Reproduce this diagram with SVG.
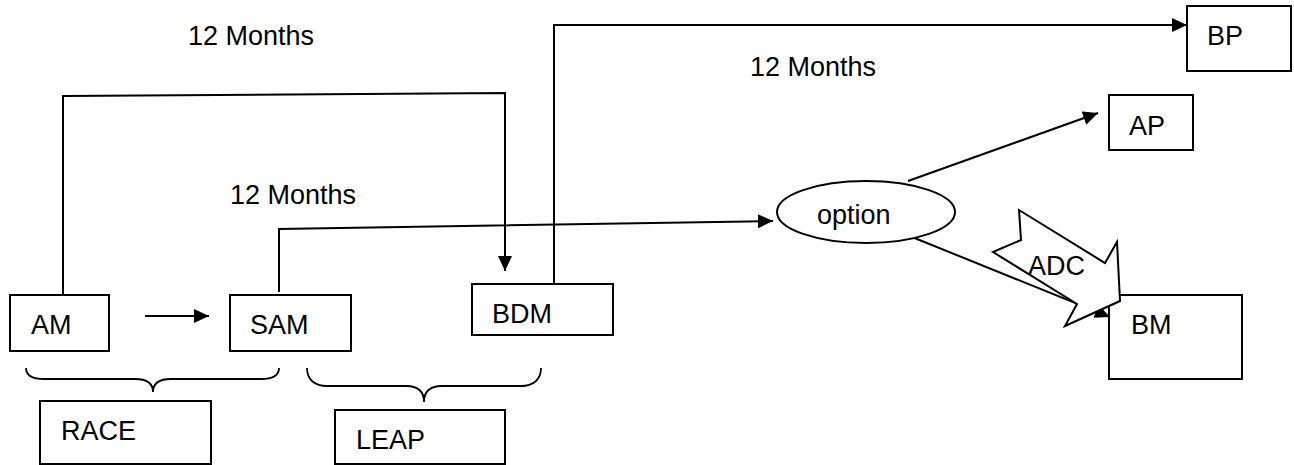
<svg xmlns="http://www.w3.org/2000/svg" width="1294" height="465" viewBox="0 0 1294 465">
  <defs>
    <style>
      .box { fill: #fff; stroke: #000; stroke-width: 2; }
      .lbl { font-family: "Liberation Sans", Arial, sans-serif; font-size: 27px; fill: #000; }
      .conn { fill: none; stroke: #000; stroke-width: 2; }
      .brace { fill: none; stroke: #000; stroke-width: 1.8; }
    </style>
    <marker id="arr" markerUnits="userSpaceOnUse" markerWidth="18" markerHeight="16" refX="15" refY="7" orient="auto">
      <path d="M0,0 L15,7 L0,14 Z" fill="#000"/>
    </marker>
  </defs>

  <rect width="1294" height="465" fill="#fff"/>

  <g id="labels">
    <text class="lbl" x="188" y="45">12 Months</text>
    <text class="lbl" x="750" y="76">12 Months</text>
    <text class="lbl" x="230" y="204">12 Months</text>
  </g>

  <g id="node-BM"><rect class="box" x="1109" y="295" width="133" height="84"/><text class="lbl" x="1131" y="334">BM</text></g>

  <g id="connectors">
    <path class="conn" d="M63,295 L63,96 L505,93 L505,271" marker-end="url(#arr)"/>
    <path class="conn" d="M145,316 L209,316" marker-end="url(#arr)"/>
    <path class="conn" d="M279,292 L279,229 L773,221" marker-end="url(#arr)"/>
    <path class="conn" d="M554,284 L554,25 L1187,25" marker-end="url(#arr)"/>
    <path class="conn" d="M908,181 L1098,113" marker-end="url(#arr)"/>
    <path class="conn" d="M912,237 L1110,317" marker-end="url(#arr)"/>
  </g>

  <g id="node-AM"><rect class="box" x="10" y="295" width="99" height="56"/><text class="lbl" x="31" y="334">AM</text></g>
  <g id="node-SAM"><rect class="box" x="230" y="295" width="121" height="56"/><text class="lbl" x="250" y="334">SAM</text></g>
  <g id="node-BDM"><rect class="box" x="472" y="284" width="141" height="51"/><text class="lbl" x="492" y="323">BDM</text></g>
  <g id="node-BP"><rect class="box" x="1187" y="6" width="104" height="65"/><text class="lbl" x="1207" y="45">BP</text></g>
  <g id="node-AP"><rect class="box" x="1109" y="95" width="84" height="55"/><text class="lbl" x="1129" y="135">AP</text></g>
  <g id="node-option"><ellipse class="box" cx="866" cy="212" rx="89" ry="31"/><text class="lbl" x="817" y="224">option</text></g>
  <g id="node-ADC">
    <polygon class="box" points="1019,210 1021,240 993,252 1077,304 1065,326 1120,301 1117,242 1105,263"/>
    <text class="lbl" x="1028" y="275">ADC</text>
  </g>
  <g id="node-RACE"><rect class="box" x="40" y="401" width="171" height="63"/><text class="lbl" x="61" y="440">RACE</text></g>
  <g id="node-LEAP"><rect class="box" x="335" y="410" width="170" height="54"/><text class="lbl" x="356" y="449">LEAP</text></g>

  <g id="braces">
    <path class="brace" d="M26,368 C26,376 32,379 44,379 L135,379 C147,379 153,384 153,392 C153,384 159,379 171,379 L261,379 C273,379 279,376 279,368"/>
    <path class="brace" d="M307,368 C307,380 315,386 327,386 L406,386 C418,386 424,392 424,402 C424,392 430,386 442,386 L521,386 C533,386 541,380 541,368"/>
  </g>
</svg>
